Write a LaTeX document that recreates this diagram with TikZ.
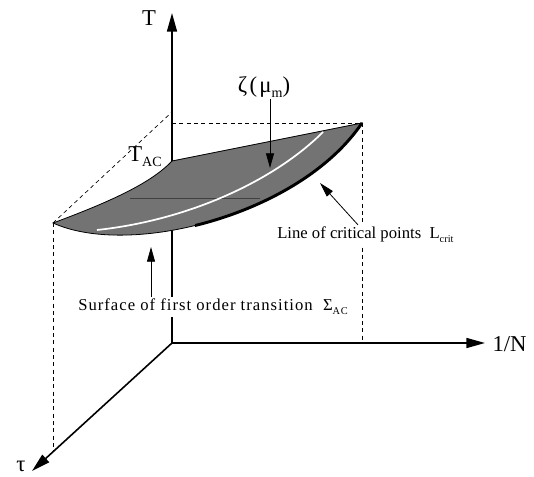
\documentclass[tikz,border=0pt]{standalone}
\usepackage{fontspec}
\setmainfont{Liberation Serif}
\usetikzlibrary{arrows.meta}
\newcommand{\lsub}[1]{\raisebox{-0.5ex}{\scalebox{0.62}{#1}}}
\begin{document}
\begin{tikzpicture}[x=0.75pt,y=-0.75pt,
  axis/.style={line width=1.2pt,-{Triangle[length=14pt,width=7.5pt]}},
  guide/.style={line width=0.5pt, dash pattern=on 3pt off 2.5pt},
  pointer/.style={line width=0.6pt,-{Triangle[length=11pt,width=6pt]}},
  lbl/.style={font=\fontsize{17}{19}\selectfont, inner sep=1pt},
  txt/.style={font=\fontsize{12.5}{14}\selectfont, inner sep=1.5pt, fill=white}
]
\useasboundingbox (0,0) rectangle (534,477);
\coordinate (O) at (172,343);
\coordinate (Ttip) at (172,13);
\coordinate (Ntip) at (485,343);
\coordinate (tautip) at (32,471);
\coordinate (TAC) at (172,161);
\coordinate (P1) at (53,223);
\coordinate (P3) at (362,123);
\coordinate (P1b) at (53,452);
\coordinate (P3b) at (362,343);
\coordinate (Tb) at (172,112);
\coordinate (Tc) at (172,123);
% dashed guides
\draw[guide] (P1) -- (P1b);
\draw[guide] (P1) -- (Tb);
\draw[guide] (Tc) -- (P3);
\draw[guide] (P3) -- (P3b);
% axes
\draw[axis] (O) -- (Ttip);
\draw[axis] (O) -- (Ntip);
\draw[axis] (O) -- (tautip);
% surface
\fill[black!55] (TAC) .. controls (152,182) and (115,200) .. (P1)
   .. controls (130,258) and (300,215) .. (P3) -- cycle;
\draw[black!75, line width=0.35pt] (130,198) -- (260,198);
\draw[line width=0.6pt] (TAC) .. controls (152,182) and (115,200) .. (P1)
   .. controls (130,258) and (300,215) .. (P3) -- cycle;
\begin{scope}
  \clip (195,100) rectangle (370,260);
  \draw[line width=2.2pt] (P1) .. controls (130,258) and (300,215) .. (P3);
\end{scope}
% zeta line
\coordinate (za) at (97,230);
\coordinate (zb) at (323,132);
\draw[white, line width=1.3pt] (za) .. controls (190,220) and (275,180) .. (zb);
% labels
\node[lbl] (Tl) at (149,18) {T};
\node[lbl, anchor=west] (Nl) at (491,344) {1/N};
\node[lbl] (taul) at (21,466) {τ};
\node[lbl] (tacl) at (145,157) {T\lsub{AC}};
\node[lbl, font=\fontsize{17}{19}\selectfont\addfontfeatures{LetterSpace=10}] (zl) at (264,87) {ζ(μ\lsub{m})};
\node[txt, anchor=west] (lc) at (275,235) {Line of critical points\ \ L\lsub{crit}};
\node[txt, anchor=west, font=\fontsize{12.5}{14}\selectfont\addfontfeatures{LetterSpace=6}] (sf) at (76,307) {Surface of first order transition\ \ Σ\lsub{AC}};
% pointers
\coordinate (zt) at (270,168);
\coordinate (lt) at (320,183);
\coordinate (lsx) at (358,0);
\coordinate (st) at (151,247);
\draw[pointer] (zl.south -| zt) -- (zt);
\draw[pointer] (lc.north -| lsx) -- (lt);
\draw[pointer] (sf.north -| st) -- (st);
\end{tikzpicture}
\end{document}
